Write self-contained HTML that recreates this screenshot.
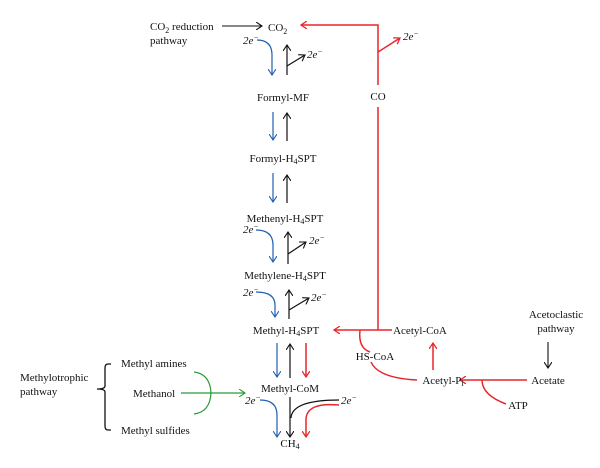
<!DOCTYPE html>
<html><head><meta charset="utf-8"><style>
html,body{margin:0;padding:0;background:#fff;}
svg{display:block;}
text{font-family:"Liberation Serif",serif;font-size:11px;fill:#111;}
.c{text-anchor:middle;}
.i{font-style:italic;}
</style></head><body>
<svg width="600" height="468" viewBox="0 0 600 468" xmlns="http://www.w3.org/2000/svg">
<defs>
<marker id="ak" markerWidth="8" markerHeight="8" refX="6" refY="4" orient="auto" markerUnits="userSpaceOnUse"><path d="M0,0 L6,4 L0,8" fill="none" stroke="#111" stroke-width="1.1"/></marker>
<marker id="ab" markerWidth="8" markerHeight="8" refX="6" refY="4" orient="auto" markerUnits="userSpaceOnUse"><path d="M0,0 L6,4 L0,8" fill="none" stroke="#1f5fb0" stroke-width="1.1"/></marker>
<marker id="ar" markerWidth="8" markerHeight="8" refX="6" refY="4" orient="auto" markerUnits="userSpaceOnUse"><path d="M0,0 L6,4 L0,8" fill="none" stroke="#e8262a" stroke-width="1.3"/></marker>
<marker id="ag" markerWidth="8" markerHeight="8" refX="6" refY="4" orient="auto" markerUnits="userSpaceOnUse"><path d="M0,0 L6,4 L0,8" fill="none" stroke="#2a9a3a" stroke-width="1.1"/></marker>
</defs>

<!-- top -->
<text x="150" y="30">CO<tspan font-size="8" dy="3">2</tspan><tspan dy="-3"> reduction</tspan></text>
<text x="150" y="44">pathway</text>
<line x1="222" y1="26" x2="262" y2="26" stroke="#111" stroke-width="1.1" marker-end="url(#ak)"/>
<text x="268" y="31">CO<tspan font-size="8" dy="3">2</tspan></text>

<!-- red CO path -->
<g stroke="#e8262a" stroke-width="1.5" fill="none">
<polyline points="378,85 378,25 301,25" marker-end="url(#ar)"/>
<line x1="378" y1="52" x2="400" y2="38" marker-end="url(#ar)"/>
<polyline points="378,107 378,330"/>
<line x1="392" y1="330" x2="334" y2="330" marker-end="url(#ar)"/>
<path d="M360,330 Q358,348 370,352"/>
<path d="M371,362 Q378,378 417,380"/>
<line x1="433" y1="370" x2="433" y2="343" marker-end="url(#ar)"/>
<line x1="527" y1="380" x2="460" y2="380" marker-end="url(#ar)"/>
<path d="M482,380 Q482,395 506,404"/>
<line x1="306" y1="343" x2="306" y2="377" marker-end="url(#ar)"/>
<path d="M339,405 Q306,402 306,420 L306,437" marker-end="url(#ar)"/>
</g>
<text x="403" y="40" class="i">2e<tspan font-size="8" dy="-4">−</tspan></text>
<text x="378" y="100" class="c">CO</text>

<!-- main column -->
<g stroke-width="1.2" fill="none">
<!-- CO2 -> Formyl-MF -->
<path d="M257,40 Q272,40 272,55 L272,75" stroke="#1f5fb0" marker-end="url(#ab)"/>
<line x1="287" y1="75" x2="287" y2="45" stroke="#111" marker-end="url(#ak)"/>
<line x1="287" y1="66" x2="305" y2="55" stroke="#111" marker-end="url(#ak)"/>
<!-- Formyl-MF -> Formyl-H4SPT -->
<line x1="273" y1="112" x2="273" y2="140" stroke="#1f5fb0" marker-end="url(#ab)"/>
<line x1="287" y1="141" x2="287" y2="113" stroke="#111" marker-end="url(#ak)"/>
<!-- Formyl-H4SPT -> Methenyl -->
<line x1="273" y1="173" x2="273" y2="202" stroke="#1f5fb0" marker-end="url(#ab)"/>
<line x1="287" y1="203" x2="287" y2="175" stroke="#111" marker-end="url(#ak)"/>
<!-- Methenyl -> Methylene -->
<path d="M256,230 Q273,230 273,245 L273,262" stroke="#1f5fb0" marker-end="url(#ab)"/>
<line x1="288" y1="264" x2="288" y2="232" stroke="#111" marker-end="url(#ak)"/>
<line x1="288" y1="254" x2="306" y2="242" stroke="#111" marker-end="url(#ak)"/>
<!-- Methylene -> Methyl -->
<path d="M256,292 Q275,292 275,305 L275,317" stroke="#1f5fb0" marker-end="url(#ab)"/>
<line x1="289" y1="319" x2="289" y2="290" stroke="#111" marker-end="url(#ak)"/>
<line x1="289" y1="310" x2="309" y2="298" stroke="#111" marker-end="url(#ak)"/>
<!-- Methyl -> Methyl-CoM -->
<line x1="277" y1="343" x2="277" y2="377" stroke="#1f5fb0" marker-end="url(#ab)"/>
<line x1="290" y1="378" x2="290" y2="344" stroke="#111" marker-end="url(#ak)"/>
<!-- Methyl-CoM -> CH4 -->
<path d="M260,400 Q277,400 277,415 L277,437" stroke="#1f5fb0" marker-end="url(#ab)"/>
<line x1="290" y1="397" x2="290" y2="437" stroke="#111" marker-end="url(#ak)"/>
<path d="M339,400 Q292,400 291,418" stroke="#111"/>
</g>
<text x="243" y="44" class="i">2e<tspan font-size="8" dy="-4">−</tspan></text>
<text x="307" y="58" class="i">2e<tspan font-size="8" dy="-4">−</tspan></text>
<text x="243" y="233" class="i">2e<tspan font-size="8" dy="-4">−</tspan></text>
<text x="309" y="244" class="i">2e<tspan font-size="8" dy="-4">−</tspan></text>
<text x="243" y="296" class="i">2e<tspan font-size="8" dy="-4">−</tspan></text>
<text x="311" y="301" class="i">2e<tspan font-size="8" dy="-4">−</tspan></text>
<text x="245" y="404" class="i">2e<tspan font-size="8" dy="-4">−</tspan></text>
<text x="341" y="404" class="i">2e<tspan font-size="8" dy="-4">−</tspan></text>

<text x="283" y="101" class="c">Formyl-MF</text>
<text x="283" y="162" class="c">Formyl-H<tspan font-size="8" dy="2">4</tspan><tspan dy="-2">SPT</tspan></text>
<text x="285" y="222" class="c">Methenyl-H<tspan font-size="8" dy="2">4</tspan><tspan dy="-2">SPT</tspan></text>
<text x="285" y="279" class="c">Methylene-H<tspan font-size="8" dy="2">4</tspan><tspan dy="-2">SPT</tspan></text>
<text x="286" y="334" class="c">Methyl-H<tspan font-size="8" dy="2">4</tspan><tspan dy="-2">SPT</tspan></text>
<text x="290" y="392" class="c">Methyl-CoM</text>
<text x="290" y="447" class="c">CH<tspan font-size="8" dy="2">4</tspan></text>

<!-- right side -->
<text x="420" y="334" class="c">Acetyl-CoA</text>
<text x="375" y="360" class="c">HS-CoA</text>
<text x="443" y="384" class="c">Acetyl-P<tspan font-size="8" dy="2">i</tspan></text>
<text x="548" y="384" class="c">Acetate</text>
<text x="518" y="409" class="c">ATP</text>
<text x="556" y="318" class="c">Acetoclastic</text>
<text x="556" y="332" class="c">pathway</text>
<line x1="548" y1="342" x2="548" y2="368" stroke="#111" stroke-width="1.1" marker-end="url(#ak)"/>

<!-- left side -->
<text x="20" y="381">Methylotrophic</text>
<text x="20" y="395">pathway</text>
<path d="M111,364 L108,364 Q105,364 105,368 L105,386 Q105,389 97,389 Q105,389 105,392 L105,426 Q105,430 108,430 L111,430" stroke="#111" stroke-width="1.3" fill="none"/>
<text x="121" y="367">Methyl amines</text>
<text x="133" y="397">Methanol</text>
<text x="121" y="434">Methyl sulfides</text>
<line x1="181" y1="393" x2="245" y2="393" stroke="#2a9a3a" stroke-width="1.2" marker-end="url(#ag)"/>
<path d="M194,372 Q210,374 211,393 Q210,412 194,414" stroke="#2a9a3a" stroke-width="1.2" fill="none"/>
</svg>
</body></html>
